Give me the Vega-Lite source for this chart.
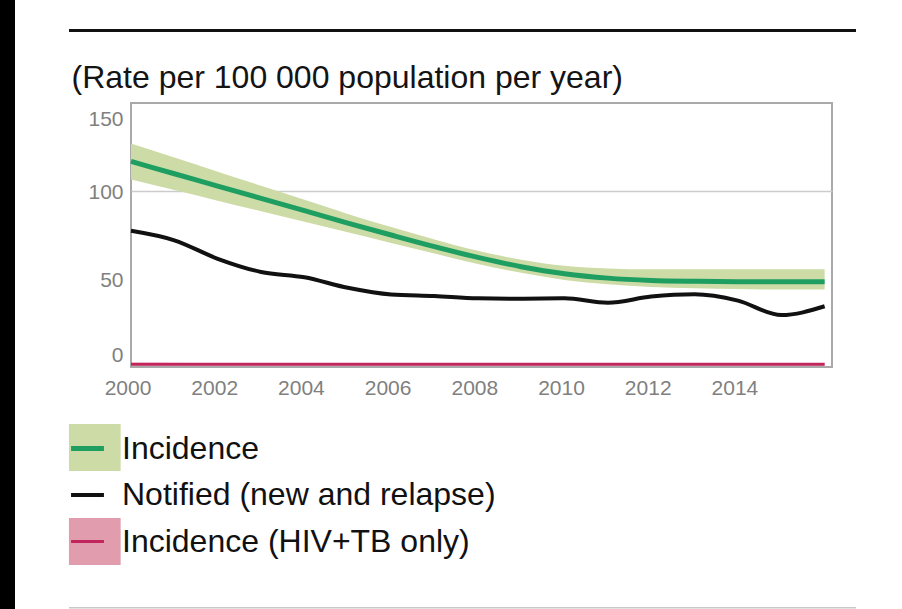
{
  "$schema": "https://vega.github.io/schema/vega-lite/v6.json",
  "background": "white",
  "padding": 0,
  "config": {"view": {"stroke": null}},
  "datasets": {
    "lines": [
      {"year": 2000, "series": "Incidence", "value": 116.8},
      {"year": 2001, "series": "Incidence", "value": 109.8},
      {"year": 2002, "series": "Incidence", "value": 102.8},
      {"year": 2003, "series": "Incidence", "value": 95.8},
      {"year": 2004, "series": "Incidence", "value": 88.8},
      {"year": 2005, "series": "Incidence", "value": 81.8},
      {"year": 2006, "series": "Incidence", "value": 75.0},
      {"year": 2007, "series": "Incidence", "value": 68.4},
      {"year": 2008, "series": "Incidence", "value": 62.3},
      {"year": 2009, "series": "Incidence", "value": 57.0},
      {"year": 2010, "series": "Incidence", "value": 53.0},
      {"year": 2011, "series": "Incidence", "value": 50.5},
      {"year": 2012, "series": "Incidence", "value": 49.2},
      {"year": 2013, "series": "Incidence", "value": 48.7},
      {"year": 2014, "series": "Incidence", "value": 48.5},
      {"year": 2015, "series": "Incidence", "value": 48.5},
      {"year": 2016, "series": "Incidence", "value": 48.5},
      {"year": 2000, "series": "Notified (new and relapse)", "value": 77.4},
      {"year": 2001, "series": "Notified (new and relapse)", "value": 72.0},
      {"year": 2002, "series": "Notified (new and relapse)", "value": 61.5},
      {"year": 2003, "series": "Notified (new and relapse)", "value": 54.0},
      {"year": 2004, "series": "Notified (new and relapse)", "value": 51.0},
      {"year": 2005, "series": "Notified (new and relapse)", "value": 45.0},
      {"year": 2006, "series": "Notified (new and relapse)", "value": 41.2},
      {"year": 2007, "series": "Notified (new and relapse)", "value": 40.3},
      {"year": 2008, "series": "Notified (new and relapse)", "value": 39.0},
      {"year": 2009, "series": "Notified (new and relapse)", "value": 38.8},
      {"year": 2010, "series": "Notified (new and relapse)", "value": 39.0},
      {"year": 2011, "series": "Notified (new and relapse)", "value": 36.5},
      {"year": 2012, "series": "Notified (new and relapse)", "value": 40.0},
      {"year": 2013, "series": "Notified (new and relapse)", "value": 41.3},
      {"year": 2014, "series": "Notified (new and relapse)", "value": 37.7},
      {"year": 2015, "series": "Notified (new and relapse)", "value": 29.5},
      {"year": 2016, "series": "Notified (new and relapse)", "value": 34.5},
      {"year": 2000, "series": "Incidence (HIV+TB only)", "value": 1.5},
      {"year": 2001, "series": "Incidence (HIV+TB only)", "value": 1.5},
      {"year": 2002, "series": "Incidence (HIV+TB only)", "value": 1.5},
      {"year": 2003, "series": "Incidence (HIV+TB only)", "value": 1.5},
      {"year": 2004, "series": "Incidence (HIV+TB only)", "value": 1.5},
      {"year": 2005, "series": "Incidence (HIV+TB only)", "value": 1.5},
      {"year": 2006, "series": "Incidence (HIV+TB only)", "value": 1.5},
      {"year": 2007, "series": "Incidence (HIV+TB only)", "value": 1.5},
      {"year": 2008, "series": "Incidence (HIV+TB only)", "value": 1.5},
      {"year": 2009, "series": "Incidence (HIV+TB only)", "value": 1.5},
      {"year": 2010, "series": "Incidence (HIV+TB only)", "value": 1.5},
      {"year": 2011, "series": "Incidence (HIV+TB only)", "value": 1.5},
      {"year": 2012, "series": "Incidence (HIV+TB only)", "value": 1.5},
      {"year": 2013, "series": "Incidence (HIV+TB only)", "value": 1.5},
      {"year": 2014, "series": "Incidence (HIV+TB only)", "value": 1.5},
      {"year": 2015, "series": "Incidence (HIV+TB only)", "value": 1.5},
      {"year": 2016, "series": "Incidence (HIV+TB only)", "value": 1.5}
    ],
    "bands": [
      {"year": 2000, "band": "inc", "lo": 106.5, "hi": 127.0},
      {"year": 2001, "band": "inc", "lo": 100.5, "hi": 119.0},
      {"year": 2002, "band": "inc", "lo": 94.5, "hi": 111.0},
      {"year": 2003, "band": "inc", "lo": 88.5, "hi": 103.0},
      {"year": 2004, "band": "inc", "lo": 82.5, "hi": 95.0},
      {"year": 2005, "band": "inc", "lo": 76.5, "hi": 87.0},
      {"year": 2006, "band": "inc", "lo": 70.5, "hi": 79.5},
      {"year": 2007, "band": "inc", "lo": 64.5, "hi": 72.5},
      {"year": 2008, "band": "inc", "lo": 58.5, "hi": 66.0},
      {"year": 2009, "band": "inc", "lo": 53.5, "hi": 61.0},
      {"year": 2010, "band": "inc", "lo": 49.5, "hi": 57.5},
      {"year": 2011, "band": "inc", "lo": 47.0, "hi": 56.0},
      {"year": 2012, "band": "inc", "lo": 45.5, "hi": 55.5},
      {"year": 2013, "band": "inc", "lo": 44.8, "hi": 55.5},
      {"year": 2014, "band": "inc", "lo": 44.3, "hi": 55.5},
      {"year": 2015, "band": "inc", "lo": 44.0, "hi": 55.5},
      {"year": 2016, "band": "inc", "lo": 44.0, "hi": 55.5},
      {"year": 2000, "band": "hiv", "lo": 0.9, "hi": 2.4},
      {"year": 2004, "band": "hiv", "lo": 0.9, "hi": 2.2},
      {"year": 2008, "band": "hiv", "lo": 0.9, "hi": 2.1},
      {"year": 2012, "band": "hiv", "lo": 0.9, "hi": 2.1},
      {"year": 2016, "band": "hiv", "lo": 0.9, "hi": 2.1}
    ]
  },
  "spacing": 54,
  "hconcat": [
    {
      "width": 15,
      "height": 609,
      "view": {"fill": "#000000", "stroke": null},
      "data": {"values": [{"k": 1}]},
      "mark": {"type": "point", "opacity": 0, "size": 0, "strokeWidth": 0}
    },
    {
      "spacing": 0,
      "vconcat": [
        {
          "width": 10,
          "height": 28.5,
          "data": {"values": [{"k": 1}]},
          "mark": {"type": "point", "opacity": 0, "size": 0, "strokeWidth": 0}
        },
        {
          "width": 787,
          "height": 3,
          "view": {"fill": "#111111", "stroke": null},
          "data": {"values": [{"k": 1}]},
          "mark": {"type": "point", "opacity": 0, "size": 0, "strokeWidth": 0}
        },
        {
          "width": 10,
          "height": 28,
          "data": {"values": [{"k": 1}]},
          "mark": {"type": "point", "opacity": 0, "size": 0, "strokeWidth": 0}
        },
        {
          "spacing": 0,
          "hconcat": [
            {
              "width": 1,
              "height": 10,
              "data": {"values": [{"k": 1}]},
              "mark": {"type": "point", "opacity": 0, "size": 0, "strokeWidth": 0}
            },
            {
              "width": 701,
              "height": 264,
              "view": {"stroke": "#a9a9a9", "strokeWidth": 2},
              "layer": [
                {
                  "data": {"name": "bands"},
                  "mark": {"type": "area", "interpolate": "monotone", "opacity": 1},
                  "encoding": {
                    "x": {
                      "field": "year", "type": "quantitative",
                      "scale": {"domain": [2000, 2016.17], "nice": false, "zero": false},
                      "axis": {
                        "values": [2000, 2002, 2004, 2006, 2008, 2010, 2012, 2014],
                        "format": "d", "title": null, "domain": false, "ticks": false, "grid": false,
                        "labelFont": "Liberation Sans", "labelFontSize": 21, "labelColor": "#808080",
                        "labelPadding": 10, "labelOffset": -3.5, "labelFlush": false, "labelOverlap": false
                      }
                    },
                    "y": {
                      "field": "lo", "type": "quantitative",
                      "scale": {"domain": [0, 150], "nice": false, "zero": true},
                      "axis": {
                        "values": [0, 50, 100, 150],
                        "title": "(Rate per 100 000 population per year)",
                        "titleFont": "Liberation Sans", "titleFontSize": 32, "titleFontWeight": "normal",
                        "titleColor": "#141414", "titleAngle": 0, "titleAlign": "left", "titleBaseline": "alphabetic",
                        "titleX": -60, "titleY": -16,
                        "domain": false, "ticks": false, "grid": true,
                        "gridColor": "#cccccc", "gridWidth": 1.5,
                        "gridOpacity": {"condition": {"test": "datum.value === 100", "value": 1}, "value": 0},
                        "labelFont": "Liberation Sans", "labelFontSize": 21, "labelColor": "#808080",
                        "labelPadding": 8,
                        "labelOffset": {"condition": [{"test": "datum.value === 150", "value": 16}, {"test": "datum.value === 0", "value": -12}], "value": 1},
                        "labelFlush": false, "labelOverlap": false
                      }
                    },
                    "y2": {"field": "hi"},
                    "fill": {
                      "field": "band", "type": "nominal",
                      "scale": {"domain": ["inc", "not", "hiv"], "range": ["#cddba6", "rgba(255,255,255,0)", "#e19cad"]},
                      "legend": {
                        "title": null, "orient": "none", "legendX": 71.3, "legendY": 424, "direction": "vertical",
                        "symbolType": "M-1.1,-1H1.1V1H-1.1Z", "symbolSize": 2209, "symbolStrokeWidth": 0,
                        "symbolStrokeColor": "transparent", "symbolOpacity": 1,
                        "labelExpr": "''", "labelFontSize": 1, "labelOffset": 0,
                        "rowPadding": 0, "padding": 0, "zindex": 0
                      }
                    }
                  }
                },
                {
                  "data": {"name": "lines"},
                  "mark": {"type": "line", "interpolate": "monotone"},
                  "encoding": {
                    "x": {
                      "field": "year", "type": "quantitative",
                      "axis": {
                        "values": [2000, 2002, 2004, 2006, 2008, 2010, 2012, 2014],
                        "format": "d", "title": null, "domain": false, "ticks": false, "grid": false,
                        "labelFont": "Liberation Sans", "labelFontSize": 21, "labelColor": "#808080",
                        "labelPadding": 10, "labelOffset": -3.5, "labelFlush": false, "labelOverlap": false
                      }
                    },
                    "y": {
                      "field": "value", "type": "quantitative",
                      "axis": {
                        "values": [0, 50, 100, 150],
                        "title": "(Rate per 100 000 population per year)",
                        "titleFont": "Liberation Sans", "titleFontSize": 32, "titleFontWeight": "normal",
                        "titleColor": "#141414", "titleAngle": 0, "titleAlign": "left", "titleBaseline": "alphabetic",
                        "titleX": -60, "titleY": -16,
                        "domain": false, "ticks": false, "grid": true,
                        "gridColor": "#cccccc", "gridWidth": 1.5,
                        "gridOpacity": {"condition": {"test": "datum.value === 100", "value": 1}, "value": 0},
                        "labelFont": "Liberation Sans", "labelFontSize": 21, "labelColor": "#808080",
                        "labelPadding": 8,
                        "labelOffset": {"condition": [{"test": "datum.value === 150", "value": 16}, {"test": "datum.value === 0", "value": -12}], "value": 1},
                        "labelFlush": false, "labelOverlap": false
                      }
                    },
                    "stroke": {
                      "field": "series", "type": "nominal",
                      "scale": {
                        "domain": ["Incidence", "Notified (new and relapse)", "Incidence (HIV+TB only)"],
                        "range": ["#1f9e62", "#111111", "#c2255c"]
                      },
                      "legend": {
                        "title": null, "orient": "none", "legendX": 61.5, "legendY": 422.5, "direction": "vertical",
                        "symbolType": "M-0.7,0H0.7", "symbolSize": 2209, "symbolStrokeWidth": 2.5,
                        "symbolFillColor": "transparent",
                        "labelFont": "Liberation Sans", "labelFontSize": 32, "labelColor": "#111111",
                        "labelOffset": 8.5, "labelLimit": 0,
                        "rowPadding": 5, "padding": 0, "zindex": 1
                      }
                    },
                    "strokeWidth": {
                      "field": "series", "type": "nominal",
                      "scale": {
                        "domain": ["Incidence", "Notified (new and relapse)", "Incidence (HIV+TB only)"],
                        "range": [5, 3, 4.5]
                      },
                      "legend": null
                    }
                  }
                }
              ]
            }
          ]
        },
        {
          "width": 10,
          "height": 208,
          "data": {"values": [{"k": 1}]},
          "mark": {"type": "point", "opacity": 0, "size": 0, "strokeWidth": 0}
        },
        {
          "width": 787,
          "height": 1.5,
          "view": {"fill": "#c8c8c8", "stroke": null},
          "data": {"values": [{"k": 1}]},
          "mark": {"type": "point", "opacity": 0, "size": 0, "strokeWidth": 0}
        }
      ]
    }
  ]
}
